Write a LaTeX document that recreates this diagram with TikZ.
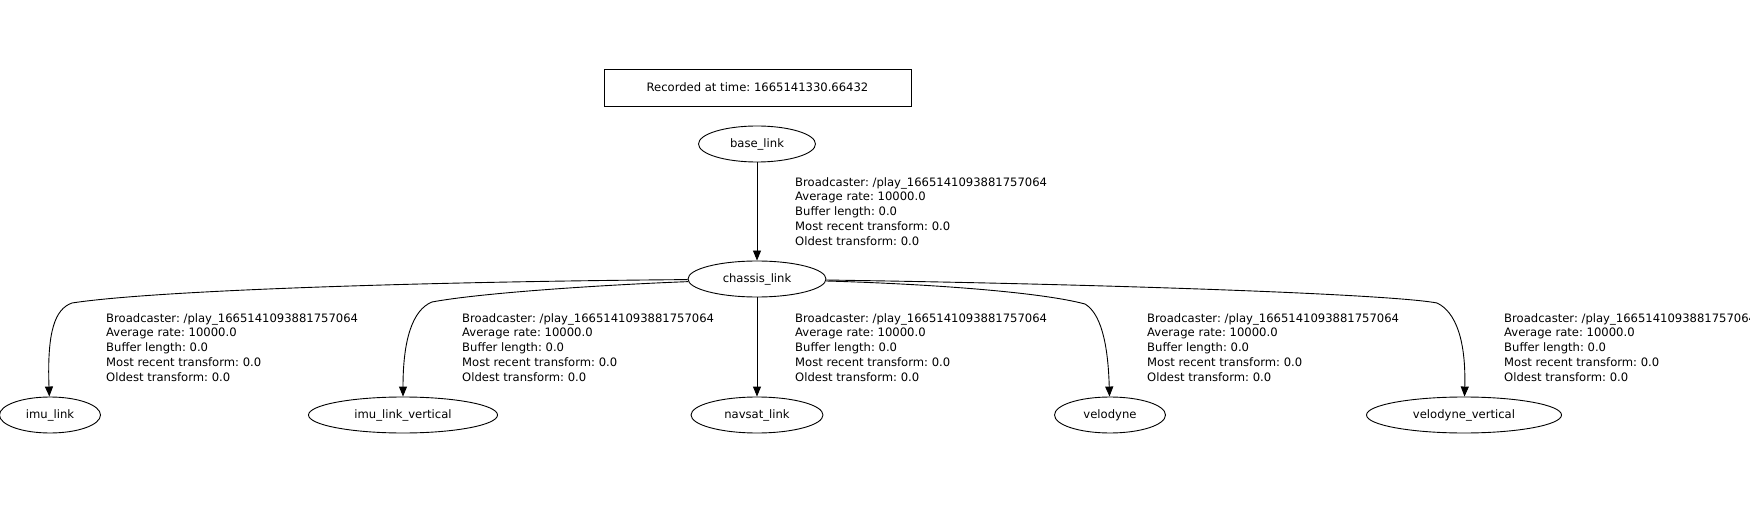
\documentclass[tikz,border=0pt]{standalone}
\usepackage{fontspec}
\setmainfont{DejaVu Sans}
\usepackage{tikz}
\usetikzlibrary{
  arrows.meta,
  shapes.geometric
}
\frenchspacing

\begin{document}
\begin{tikzpicture}[
  x=1bp,y=-1bp,
  font=\fontsize{11.6bp}{14.8bp}\selectfont,
  fr/.style={ellipse,draw,line width=0.9bp,inner sep=0pt,minimum height=36bp},
  t/.style={rectangle,draw,line width=0.9bp,minimum width=307bp,minimum height=37bp},
  lb/.style={anchor=north west,align=left,inner sep=0pt},
  a/.style={-{Triangle[length=10bp,width=8bp]},line width=0.9bp}
]
\useasboundingbox (0,0) rectangle (1750,513);
\node[t] (rec) at (757.5,87.5) {Recorded at time: 1665141330.66432};
\node[fr,minimum width=117bp] (base) at (757,144) {base\_link};
\node[fr,minimum width=138bp] (chassis) at (757,279) {chassis\_link};
\node[fr,minimum width=101bp] (imu) at (50,415) {imu\_link};
\node[fr,minimum width=189bp] (imuv) at (403,415) {imu\_link\_vertical};
\node[fr,minimum width=132bp] (navsat) at (757,415) {navsat\_link};
\node[fr,minimum width=111bp] (velo) at (1110,415) {velodyne};
\node[fr,minimum width=195bp] (velov) at (1464,415) {velodyne\_vertical};
% edge labels
\node[lb] (lbase) at (795,177) {Broadcaster: /play\_1665141093881757064\\Average rate: 10000.0\\Buffer length: 0.0\\Most recent transform: 0.0\\Oldest transform: 0.0};
\node[lb] (limu) at (106,313) {Broadcaster: /play\_1665141093881757064\\Average rate: 10000.0\\Buffer length: 0.0\\Most recent transform: 0.0\\Oldest transform: 0.0};
\node[lb] (limuv) at (462,313) {Broadcaster: /play\_1665141093881757064\\Average rate: 10000.0\\Buffer length: 0.0\\Most recent transform: 0.0\\Oldest transform: 0.0};
\node[lb] (lnavsat) at (795,313) {Broadcaster: /play\_1665141093881757064\\Average rate: 10000.0\\Buffer length: 0.0\\Most recent transform: 0.0\\Oldest transform: 0.0};
\node[lb] (lvelo) at (1147,313) {Broadcaster: /play\_1665141093881757064\\Average rate: 10000.0\\Buffer length: 0.0\\Most recent transform: 0.0\\Oldest transform: 0.0};
\node[lb] (lvelov) at (1504,313) {Broadcaster: /play\_1665141093881757064\\Average rate: 10000.0\\Buffer length: 0.0\\Most recent transform: 0.0\\Oldest transform: 0.0};
% edges
\draw[a] (base)--(chassis);
\draw[a] (chassis) .. controls (400,282) and (150,291) .. (72,303) .. controls (55,309) and (47,331) .. (imu);
\draw[a] (chassis) .. controls (600,285) and (480,293) .. (432,302) .. controls (412,310) and (403,341) .. (imuv);
\draw[a] (chassis)--(navsat);
\draw[a] (chassis) .. controls (930,284) and (1040,292) .. (1085,304) .. controls (1100,313) and (1108,341) .. (velo);
\draw[a] (chassis) .. controls (1100,284) and (1390,294) .. (1437,303) .. controls (1456,312) and (1466,341) .. (velov);
\end{tikzpicture}
\end{document}
